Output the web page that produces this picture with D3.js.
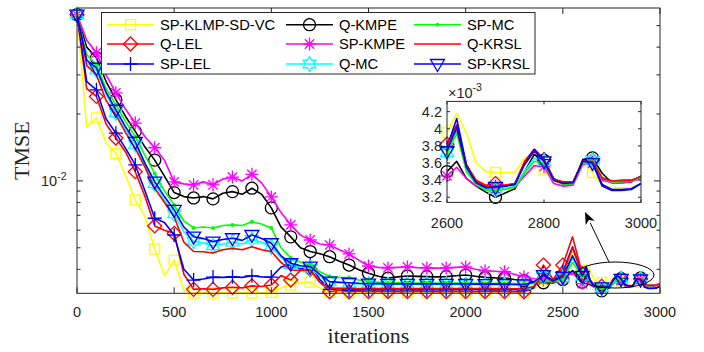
<!DOCTYPE html>
<html><head><meta charset="utf-8">
<script src="https://cdn.jsdelivr.net/npm/d3@7"></script>
<style>html,body{margin:0;padding:0;background:#fff;} svg{display:block;}</style>
</head><body><svg id="c" width="704" height="352"></svg>
<script>
// iterations: main curve sampled every 50 (0..2550), zoom region every 20 (2600..3000)
const mainIters = d3.range(0, 2551, 50);
const zoomIters = d3.range(2600, 3001, 20);
const iterations = mainIters.concat(zoomIters);

// TMSE values in units of 1e-3
const spKlmpMain = [56, 17.5, 19.2, 14.8, 13.3, 10.6, 8.2, 6.9, 4.94, 3.75,
  4.4, 3.2, 3.13, 3.14, 3.13, 3.14, 3.13, 3.14, 3.13, 3.14,
  3.15, 3.3, 3.4, 3.5, 3.5, 3.3, 3.15, 3.14, 3.14, 3.14,
  3.14, 3.14, 3.14, 3.14, 3.14, 3.14, 3.14, 3.14, 3.14, 3.14,
  3.14, 3.14, 3.14, 3.14, 3.14, 3.14, 3.14, 3.25, 3.6, 3.5,
  3.8, 4.8];
const spKlmpZoom = [3.96, 4.18, 3.95, 3.60, 3.50, 3.49, 3.49, 3.49, 3.66, 3.70, 3.53, 3.38, 3.37, 3.38, 3.62, 3.49, 3.33, 3.31, 3.31, 3.31, 3.36];

const qLelMain = [56, 26, 24, 18, 15.6, 13.5, 11.0, 8.5, 6.27, 6.0,
  5.81, 3.8, 3.25, 3.27, 3.25, 3.30, 3.32, 3.30, 3.37, 3.35,
  3.40, 3.75, 3.58, 3.95, 4.0, 3.5, 3.17, 3.22, 3.17, 3.2,
  3.18, 3.19, 3.18, 3.17, 3.18, 3.19, 3.18, 3.17, 3.18, 3.18,
  3.18, 3.17, 3.18, 3.19, 3.18, 3.17, 3.17, 3.3, 4.18, 3.6,
  4.18, 5.6];
const qLelZoom = [3.82, 4.05, 3.58, 3.40, 3.34, 3.36, 3.34, 3.36, 3.62, 3.76, 3.64, 3.41, 3.38, 3.38, 3.63, 3.63, 3.43, 3.39, 3.40, 3.40, 3.44];

const spLelMain = [56, 28, 25.7, 19, 16.4, 14, 11.8, 9.0, 6.79, 6.5,
  5.71, 4.0, 3.58, 3.62, 3.69, 3.68, 3.70, 3.68, 3.74, 3.70,
  3.69, 4.1, 4.2, 4.0, 4.2, 3.6, 3.25, 3.28, 3.22, 3.25,
  3.24, 3.25, 3.24, 3.23, 3.24, 3.25, 3.24, 3.23, 3.24, 3.24,
  3.24, 3.24, 3.24, 3.25, 3.24, 3.24, 3.23, 3.3, 3.85, 3.55,
  3.9, 5.05];
const spLelZoom = [3.78, 4.12, 3.58, 3.38, 3.32, 3.32, 3.33, 3.35, 3.60, 3.76, 3.64, 3.40, 3.36, 3.37, 3.62, 3.60, 3.33, 3.28, 3.28, 3.29, 3.36];

const qKmpeMain = [56, 40, 35.8, 28, 23.2, 19.5, 16.7, 14.2, 12.4, 10.5,
  8.86, 8.5, 8.38, 8.5, 8.3, 8.8, 8.95, 8.7, 9.27, 8.7,
  7.56, 6.2, 5.6, 5.0, 4.81, 4.7, 4.56, 4.35, 4.18, 3.98,
  3.84, 3.72, 3.65, 3.70, 3.73, 3.72, 3.71, 3.70, 3.71, 3.74,
  3.77, 3.72, 3.68, 3.66, 3.65, 3.6, 3.56, 3.52, 3.48, 3.47,
  3.6, 3.95];
const qKmpeZoom = [3.50, 3.62, 3.42, 3.33, 3.26, 3.20, 3.25, 3.30, 3.50, 3.70, 3.63, 3.42, 3.35, 3.36, 3.64, 3.66, 3.48, 3.37, 3.37, 3.38, 3.45];

const spKmpeMain = [56, 43, 37.7, 30, 24.9, 21, 18.2, 15.8, 14.1, 12.4,
  9.9, 9.7, 9.6, 9.9, 9.6, 10.2, 10.4, 10.0, 10.7, 9.8,
  8.47, 7.2, 6.34, 5.7, 5.42, 5.2, 5.15, 4.9, 4.69, 4.4,
  4.14, 4.08, 4.06, 4.08, 4.10, 4.07, 4.06, 4.05, 4.06, 4.08,
  4.10, 4.0, 3.94, 3.92, 3.90, 3.8, 3.70, 3.63, 3.58, 3.56,
  3.65, 3.85];
const spKmpeZoom = [3.45, 3.55, 3.42, 3.33, 3.30, 3.30, 3.30, 3.32, 3.45, 3.57, 3.56, 3.36, 3.33, 3.34, 3.58, 3.60, 3.40, 3.37, 3.37, 3.38, 3.42];

const qMcMain = [56, 34, 31.5, 24.5, 20.3, 17, 14.6, 11.7, 9.7, 8.2,
  7.1, 5.9, 5.35, 5.25, 5.1, 5.2, 5.3, 5.2, 5.45, 5.3,
  5.05, 4.5, 4.2, 4.1, 4.05, 3.75, 3.5, 3.48, 3.46, 3.44,
  3.43, 3.43, 3.42, 3.42, 3.42, 3.42, 3.42, 3.42, 3.42, 3.42,
  3.42, 3.42, 3.41, 3.41, 3.41, 3.41, 3.40, 3.48, 3.72, 3.52,
  3.66, 4.5];
const qMcZoom = [3.72, 3.98, 3.52, 3.36, 3.30, 3.29, 3.30, 3.33, 3.50, 3.66, 3.62, 3.41, 3.36, 3.37, 3.61, 3.63, 3.42, 3.38, 3.39, 3.40, 3.44];

const spMcMain = [56, 37, 33.3, 26, 22.0, 18.5, 15.8, 13, 10.8, 9.0,
  7.8, 6.6, 6.14, 6.2, 6.14, 6.3, 6.34, 6.3, 6.55, 6.4,
  6.14, 5.0, 4.5, 4.3, 4.18, 3.9, 3.71, 3.68, 3.66, 3.58,
  3.52, 3.50, 3.48, 3.48, 3.48, 3.47, 3.47, 3.47, 3.47, 3.47,
  3.47, 3.46, 3.46, 3.46, 3.46, 3.45, 3.45, 3.45, 3.55, 3.5,
  3.6, 4.3];
const spMcZoom = [3.70, 3.95, 3.50, 3.35, 3.28, 3.28, 3.29, 3.32, 3.48, 3.62, 3.60, 3.40, 3.35, 3.36, 3.60, 3.62, 3.42, 3.38, 3.38, 3.39, 3.43];

const qKrslMain = [56, 33, 30, 23, 19.8, 16.5, 14.0, 11.5, 9.27, 8.0,
  6.9, 5.3, 4.81, 4.8, 4.74, 4.9, 4.97, 4.9, 5.05, 4.9,
  4.81, 4.3, 3.97, 3.95, 3.97, 3.5, 3.29, 3.29, 3.28, 3.28,
  3.28, 3.28, 3.28, 3.28, 3.28, 3.28, 3.28, 3.28, 3.28, 3.28,
  3.28, 3.28, 3.28, 3.28, 3.27, 3.27, 3.27, 3.35, 3.75, 3.5,
  3.8, 5.0];
const qKrslZoom = [3.80, 4.00, 3.56, 3.39, 3.33, 3.33, 3.34, 3.36, 3.60, 3.74, 3.63, 3.41, 3.37, 3.38, 3.62, 3.62, 3.42, 3.39, 3.39, 3.40, 3.44];

const spKrslMain = [56, 35, 32.3, 25, 20.9, 17.5, 15.0, 12, 9.93, 8.5,
  7.4, 6.2, 5.61, 5.5, 5.33, 5.45, 5.52, 5.4, 5.71, 5.5,
  5.24, 4.6, 4.26, 4.15, 4.11, 3.8, 3.52, 3.5, 3.48, 3.46,
  3.45, 3.45, 3.44, 3.44, 3.44, 3.44, 3.44, 3.44, 3.44, 3.44,
  3.44, 3.43, 3.43, 3.43, 3.43, 3.42, 3.42, 3.5, 3.77, 3.55,
  3.70, 4.6];
const spKrslZoom = [3.74, 4.02, 3.55, 3.37, 3.31, 3.32, 3.33, 3.35, 3.58, 3.74, 3.62, 3.40, 3.36, 3.37, 3.62, 3.60, 3.35, 3.29, 3.29, 3.30, 3.36];

const seriesNames = ["SP-KLMP-SD-VC", "Q-LEL", "SP-LEL", "Q-KMPE", "SP-KMPE", "Q-MC", "SP-MC", "Q-KRSL", "SP-KRSL"];
const seriesColors = ["#ffff00", "#ff0000", "#0000ff", "#000000", "#ff00ff", "#00ffff", "#00ff00", "#ff0000", "#0000ff"];
const seriesMarkers = ["square", "diamond", "plus", "circle", "star", "hexagram", "dot", "none", "tri"];
const seriesMain = [spKlmpMain, qLelMain, spLelMain, qKmpeMain, spKmpeMain, qMcMain, spMcMain, qKrslMain, spKrslMain];
const seriesZoom = [spKlmpZoom, qLelZoom, spLelZoom, qKmpeZoom, spKmpeZoom, qMcZoom, spMcZoom, qKrslZoom, spKrslZoom];

const xTicks = [0, 500, 1000, 1500, 2000, 2500, 3000];
const yMinorTicks = [4, 5, 6, 7, 8, 9, 20, 30, 40, 50];
const insetXTicks = [2600, 2800, 3000];
const insetYTicks = [3.2, 3.4, 3.6, 3.8, 4.0, 4.2];

const series = seriesNames.map((n, i) => {
  if (seriesMain[i].length !== mainIters.length) throw new Error(n + " main length " + seriesMain[i].length);
  if (seriesZoom[i].length !== zoomIters.length) throw new Error(n + " zoom length " + seriesZoom[i].length);
  const vals = seriesMain[i].concat(seriesZoom[i]);
  return {name: n, color: seriesColors[i], marker: seriesMarkers[i],
    data: iterations.map((it, k) => ({it, v: vals[k]}))};
});

const AX = "#262626";
const svg = d3.select("#c");
const FS = "'Liberation Sans', Arial, Helvetica, sans-serif";
const SERIF = "'Liberation Serif', 'Times New Roman', Times, serif";

const L = 77, R = 660, T = 8, B = 293.3;
const x = d3.scaleLinear().domain([0, 3000]).range([L, R]);
const y = d3.scaleLog().domain([3.12, 60]).range([B, T]);

const defs = svg.append("defs");
defs.append("clipPath").attr("id", "clipMain").append("rect").attr("x", L).attr("y", T).attr("width", R - L).attr("height", B - T);

function drawMarker(g, type, cx, cy, color) {
  const sw = 1.3;
  let el;
  switch (type) {
    case "square":
      el = g.append("rect").attr("x", cx - 5).attr("y", cy - 5).attr("width", 10).attr("height", 10); break;
    case "diamond":
      el = g.append("path").attr("d", `M${cx},${cy-7}L${cx+7},${cy}L${cx},${cy+7}L${cx-7},${cy}Z`); break;
    case "plus":
      el = g.append("path").attr("d", `M${cx-7},${cy}H${cx+7}M${cx},${cy-7}V${cy+7}`); break;
    case "circle":
      el = g.append("circle").attr("cx", cx).attr("cy", cy).attr("r", 6); break;
    case "star": {
      const r = 6.5, d = r * 0.72;
      el = g.append("path").attr("d", `M${cx-r},${cy}H${cx+r}M${cx},${cy-r}V${cy+r}M${cx-d},${cy-d}L${cx+d},${cy+d}M${cx-d},${cy+d}L${cx+d},${cy-d}`); break;
    }
    case "hexagram": {
      const R0 = 7.5, r0 = R0 / Math.sqrt(3);
      const pts = d3.range(12).map(k => {
        const a = -Math.PI / 2 + k * Math.PI / 6;
        const rr = k % 2 === 0 ? R0 : r0;
        return [cx + rr * Math.cos(a), cy + rr * Math.sin(a)];
      });
      el = g.append("polygon").attr("points", pts.map(p => p.join(",")).join(" ")); break;
    }
    case "dot":
      g.append("circle").attr("cx", cx).attr("cy", cy).attr("r", 2).attr("fill", color); return;
    case "tri":
      el = g.append("path").attr("d", `M${cx-7},${cy-4.5}L${cx+7},${cy-4.5}L${cx},${cy+7.5}Z`); break;
    default: return;
  }
  el.attr("fill", "none").attr("stroke", color).attr("stroke-width", sw);
}

// ---------- main plot ----------
svg.append("rect").attr("x", L).attr("y", T).attr("width", R - L).attr("height", B - T).attr("fill", "#fff");

const lineMain = d3.line().x(d => x(d.it)).y(d => y(d.v));
const gLines = svg.append("g");
series.forEach(s => {
  gLines.append("path").datum(s.data).attr("d", lineMain).attr("fill", "none")
    .attr("stroke", s.color).attr("stroke-width", 1.6).attr("stroke-linejoin", "round")
    .attr("clip-path", "url(#clipMain)");
  const gm = gLines.append("g");
  s.data.filter(d => d.it % 100 === 0 && d.it < 3000).forEach(d => drawMarker(gm, s.marker, x(d.it), y(d.v), s.color));
});

// frame & ticks
const gAx = svg.append("g").attr("stroke", AX).attr("stroke-width", 1).attr("fill", "none");
gAx.append("rect").attr("x", L).attr("y", T).attr("width", R - L).attr("height", B - T);
xTicks.forEach(t => {
  gAx.append("line").attr("x1", x(t)).attr("x2", x(t)).attr("y1", B).attr("y2", B - 6);
  gAx.append("line").attr("x1", x(t)).attr("x2", x(t)).attr("y1", T).attr("y2", T + 6);
});
[[10, 6]].concat(yMinorTicks.map(v => [v, 3.5])).forEach(([v, len]) => {
  gAx.append("line").attr("x1", L).attr("x2", L + len).attr("y1", y(v)).attr("y2", y(v));
  gAx.append("line").attr("x1", R).attr("x2", R - len).attr("y1", y(v)).attr("y2", y(v));
});
const gTxt = svg.append("g").attr("font-family", FS).attr("fill", AX);
xTicks.forEach(t => {
  gTxt.append("text").attr("x", x(t)).attr("y", 317).attr("text-anchor", "middle").attr("font-size", 14.5).text(t);
});
const yl = gTxt.append("text").attr("x", 41).attr("y", y(10) + 5).attr("font-size", 14.5);
yl.append("tspan").text("10");
yl.append("tspan").attr("dy", -6).attr("font-size", 10.5).text("-2");

svg.append("text").attr("x", (L + R) / 2).attr("y", 343).attr("text-anchor", "middle")
  .attr("font-family", SERIF).attr("font-size", 22).attr("fill", AX).text("iterations");
svg.append("text").attr("transform", `translate(29,${(T + B) / 2}) rotate(-90)`).attr("text-anchor", "middle")
  .attr("font-family", SERIF).attr("font-size", 22).attr("fill", AX).text("TMSE");

// ---------- legend ----------
const gLeg = svg.append("g");
gLeg.append("rect").attr("x", 101.5).attr("y", 12.5).attr("width", 433.5).attr("height", 61.5)
  .attr("fill", "#fff").attr("stroke", AX).attr("stroke-width", 1);
const colX = [107, 286, 414];
const rowY = [24.7, 44, 64];
series.forEach((s, i) => {
  const c = Math.floor(i / 3), r = i % 3;
  const x0 = colX[c], yy = rowY[r];
  gLeg.append("line").attr("x1", x0).attr("x2", x0 + 47).attr("y1", yy).attr("y2", yy)
    .attr("stroke", s.color).attr("stroke-width", 1.6);
  drawMarker(gLeg, s.marker, x0 + 23.5, yy, s.color);
  gLeg.append("text").attr("x", x0 + 53).attr("y", yy + 5.3).attr("font-family", FS)
    .attr("font-size", 14.7).attr("fill", "#000").text(s.name);
});

// ---------- ellipse & arrow ----------
svg.append("ellipse").attr("cx", 615).attr("cy", 275).attr("rx", 39).attr("ry", 13)
  .attr("fill", "none").attr("stroke", "#000").attr("stroke-width", 1);
(function () {
  const x1 = 609, y1 = 262, x2 = 585, y2 = 212;
  const ang = Math.atan2(y2 - y1, x2 - x1);
  const hl = 12, hw = 5;
  const bx = x2 - hl * Math.cos(ang), by = y2 - hl * Math.sin(ang);
  svg.append("line").attr("x1", x1).attr("y1", y1).attr("x2", bx).attr("y2", by).attr("stroke", "#000").attr("stroke-width", 1);
  const px = -Math.sin(ang), py = Math.cos(ang);
  svg.append("path").attr("d", `M${x2},${y2}L${bx + hw * px},${by + hw * py}L${bx + 3 * Math.cos(ang)},${by + 3 * Math.sin(ang)}L${bx - hw * px},${by - hw * py}Z`).attr("fill", "#000");
})();

// ---------- inset ----------
const iL = 447, iR = 641, iT = 101.4, iB = 202.4;
const xi = d3.scaleLinear().domain([2600, 3000]).range([iL, iR]);
const yi = d3.scaleLinear().domain([3.14, 4.32]).range([iB, iT]);
defs.append("clipPath").attr("id", "clipInset").append("rect").attr("x", iL).attr("y", iT).attr("width", iR - iL).attr("height", iB - iT);
svg.append("rect").attr("x", iL).attr("y", iT).attr("width", iR - iL).attr("height", iB - iT).attr("fill", "#fff");
const lineInset = d3.line().x(d => xi(d.it)).y(d => yi(d.v));
const gIn = svg.append("g");
series.forEach(s => {
  const pts = s.data.filter(d => d.it >= 2600);
  gIn.append("path").datum(pts).attr("d", lineInset).attr("fill", "none")
    .attr("stroke", s.color).attr("stroke-width", 1.6).attr("stroke-linejoin", "round")
    .attr("clip-path", "url(#clipInset)");
  const gm = gIn.append("g");
  pts.filter(d => d.it % 100 === 0 && d.it < 3000).forEach(d => drawMarker(gm, s.marker, xi(d.it), yi(d.v), s.color));
});
const gIax = svg.append("g").attr("stroke", AX).attr("stroke-width", 1).attr("fill", "none");
gIax.append("rect").attr("x", iL).attr("y", iT).attr("width", iR - iL).attr("height", iB - iT);
insetXTicks.forEach(t => {
  gIax.append("line").attr("x1", xi(t)).attr("x2", xi(t)).attr("y1", iB).attr("y2", iB - 3);
  gIax.append("line").attr("x1", xi(t)).attr("x2", xi(t)).attr("y1", iT).attr("y2", iT + 3);
});
insetYTicks.forEach(t => {
  gIax.append("line").attr("x1", iL).attr("x2", iL + 3).attr("y1", yi(t)).attr("y2", yi(t));
  gIax.append("line").attr("x1", iR).attr("x2", iR - 3).attr("y1", yi(t)).attr("y2", yi(t));
});
const gIt = svg.append("g").attr("font-family", FS).attr("fill", AX).attr("font-size", 14.5);
insetXTicks.forEach(t => gIt.append("text").attr("x", xi(t)).attr("y", 228.3).attr("text-anchor", "middle").text(t));
insetYTicks.forEach(t => gIt.append("text").attr("x", 442).attr("y", yi(t) + 5).attr("text-anchor", "end").text(d3.format("~g")(t)));
const ex = gIt.append("text").attr("x", 448).attr("y", 97.5);
ex.append("tspan").text("×10");
ex.append("tspan").attr("dy", -7).attr("font-size", 10.5).text("-3");
</script>
</body></html>
